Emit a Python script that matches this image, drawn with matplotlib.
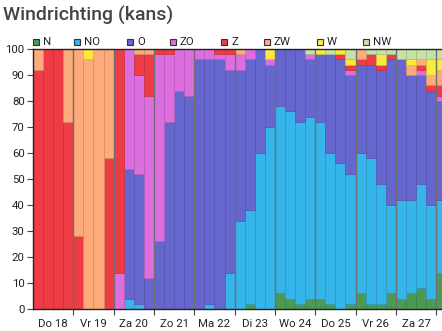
import matplotlib
matplotlib.use("Agg")
import matplotlib.pyplot as plt
import matplotlib.colors as mcolors
from matplotlib.patches import Rectangle
import numpy as np

plt.rcParams['font.family'] = ['Roboto', 'DejaVu Sans']

# 6-hourly forecast, probability (%) per wind direction
directions = ['N', 'NO', 'O', 'ZO', 'Z', 'ZW', 'W', 'NW']
days = ['Do 18', 'Vr 19', 'Za 20', 'Zo 21', 'Ma 22', 'Di 23', 'Wo 24', 'Do 25', 'Vr 26', 'Za 27']

n_vals = [0, 0, 0, 0, 0, 0, 0, 0, 0, 0, 0, 0, 0, 0, 0, 0, 0, 0, 0, 0,
          0, 2, 0, 0, 6, 4, 2, 4, 4, 2, 0, 2, 6, 2, 2, 6, 4, 6, 8, 4, 14]
no_vals = [0, 0, 0, 0, 0, 0, 0, 0, 0, 4, 2, 0, 0, 0, 0, 0, 0, 2, 0, 14,
           34, 36, 60, 70, 72, 72, 70, 70, 68, 58, 56, 50, 54, 56, 46, 34, 38, 36, 40, 36, 28]
o_vals = [0, 0, 0, 0, 0, 0, 0, 0, 0, 50, 50, 12, 26, 72, 84, 82, 96, 94, 96, 78,
          58, 58, 40, 24, 22, 24, 28, 22, 26, 38, 40, 38, 34, 36, 44, 56, 54, 48, 42, 44, 38]
zo_vals = [0, 0, 0, 0, 0, 0, 0, 0, 14, 46, 38, 70, 72, 26, 16, 18, 4, 4, 2, 6,
           6, 4, 0, 2, 0, 0, 0, 2, 0, 0, 0, 2, 0, 0, 0, 0, 0, 0, 2, 0, 2]
z_vals = [92, 100, 100, 72, 28, 0, 0, 58, 86, 0, 8, 16, 2, 2, 0, 0, 0, 0, 2, 2,
          0, 0, 0, 0, 0, 0, 0, 0, 0, 0, 2, 2, 2, 4, 2, 2, 0, 0, 2, 2, 4]
zw_vals = [8, 0, 0, 28, 72, 96, 100, 42, 0, 0, 2, 2, 0, 0, 0, 0, 0, 0, 0, 0,
           2, 0, 0, 0, 0, 0, 0, 0, 0, 0, 0, 0, 4, 0, 0, 0, 0, 4, 2, 4, 6]
w_vals = [0, 0, 0, 0, 0, 4, 0, 0, 0, 0, 0, 0, 0, 0, 0, 0, 0, 0, 0, 0,
          0, 0, 0, 4, 0, 0, 0, 0, 2, 0, 2, 2, 0, 0, 4, 0, 0, 2, 0, 6, 4]
nw_vals = [0, 0, 0, 0, 0, 0, 0, 0, 0, 0, 0, 0, 0, 0, 0, 0, 0, 0, 0, 0,
           0, 0, 0, 0, 0, 0, 0, 2, 0, 2, 0, 4, 0, 2, 2, 2, 4, 4, 4, 4, 4]

series = [n_vals, no_vals, o_vals, zo_vals, z_vals, zw_vals, w_vals, nw_vals]
colors = ['#4c9a52', '#35b5ea', '#6666cf', '#dd6ee0', '#ee3c46', '#fdab7a', '#fbe93e', '#c7e2a7']
bars_per_day = 4


def darker(c, f=0.82):
    r, g, b = mcolors.to_rgb(c)
    return (r * f, g * f, b * f)


fig = plt.figure(figsize=(4.42, 3.31), dpi=100)
W, H = 442, 331
ax = fig.add_axes([33 / W, 22 / H, (W - 33) / W, 260 / H])

x = np.arange(len(n_vals))
bottom = np.zeros(len(x))
for vals, c in zip(series, colors):
    vals = np.array(vals, dtype=float)
    m = vals > 0
    ax.bar(x[m], vals[m], bottom=bottom[m], width=1.0, color=c,
           edgecolor=darker(c), linewidth=0.5, zorder=2)
    bottom += vals

# day separators
bounds = np.arange(bars_per_day, len(x), bars_per_day) - 0.5
for b in bounds:
    ax.axvline(b, color='#6e6e6e', lw=1.0, zorder=3)

ax.set_xlim(-0.5, -0.5 + (W - 33) / 10.08)
ax.set_ylim(0, 100)
ax.set_yticks(range(0, 101, 10))
ax.set_xticks(bounds)
ax.set_xticklabels([])
ax.set_xticks(np.arange(len(days)) * bars_per_day + 1.5, minor=True)
ax.set_xticklabels(days, minor=True)
ax.tick_params(axis='x', which='major', length=4, color='#444444')
ax.tick_params(axis='x', which='minor', length=0, pad=7, labelsize=8.2, labelcolor='#222222')
ax.tick_params(axis='y', length=4, pad=2, labelsize=8.2, labelcolor='#222222', color='#444444')

for side in ['left', 'bottom', 'top']:
    ax.spines[side].set_color('#222222')
    ax.spines[side].set_linewidth(1.0)
    ax.spines[side].set_zorder(4)
ax.spines['right'].set_visible(False)

fig.text(3 / W, 1 - 15 / H, 'Windrichting (kans)', fontsize=14, color='#444444',
         fontweight='medium', va='center', ha='left')

# legend
leg_x = [32.5, 74, 127, 170, 221, 264, 317, 363]
for lx, name, c in zip(leg_x, directions, colors):
    fig.patches.append(Rectangle((lx / W, 1 - 45 / H), 6 / W, 6 / H,
                                 transform=fig.transFigure, facecolor=c,
                                 edgecolor='#333333', linewidth=0.8))
    fig.text((lx + 10) / W, 1 - 42 / H, name, fontsize=8.2, color='#222222',
             va='center', ha='left')

fig.savefig('out.png', dpi=100)
